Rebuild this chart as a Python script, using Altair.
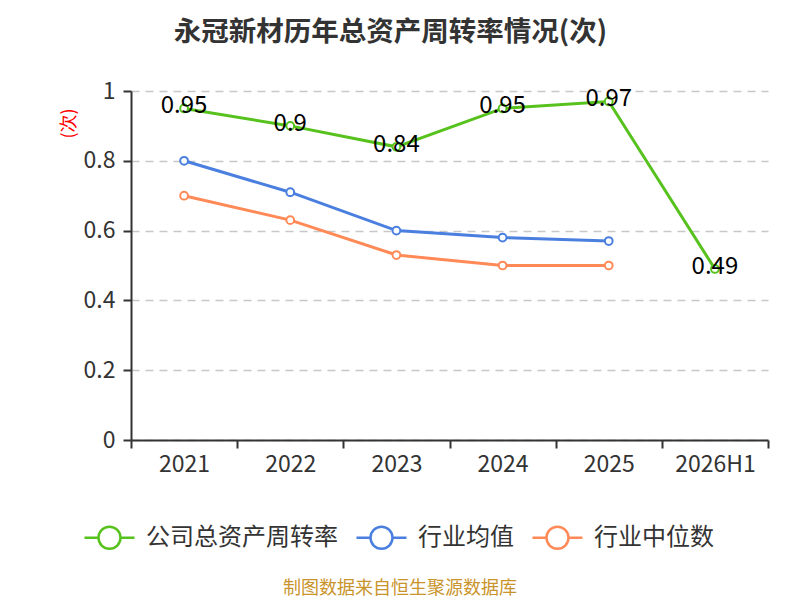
import altair as alt
import pandas as pd

years = ["2021", "2022", "2023", "2024", "2025", "2026H1"]
company = [0.95, 0.90, 0.84, 0.95, 0.97, 0.49]
ind_avg = [0.80, 0.71, 0.60, 0.58, 0.57]
ind_med = [0.70, 0.63, 0.53, 0.50, 0.50]
series_names = ["公司总资产周转率", "行业均值", "行业中位数"]
colors = ["#57c21d", "#4a7fe0", "#ff8a57"]
y_ticks = [0, 0.2, 0.4, 0.6, 0.8, 1.0]
title_text = "永冠新材历年总资产周转率情况(次)"
source_text = "制图数据来自恒生聚源数据库"

rows = []
for name, vals in zip(series_names, [company, ind_avg, ind_med]):
    for y, v in zip(years, vals):
        rows.append({"year": y, "value": v, "series": name})
df = pd.DataFrame(rows)
df_company = df[df["series"] == series_names[0]]

FONT = "Noto Sans CJK SC"

x_enc = alt.X(
    "year:O",
    sort=years,
    bandPosition=0.5,
    scale=alt.Scale(type="band", domain=years, paddingInner=0, paddingOuter=0),
    axis=alt.Axis(
        title=None,
        labelAngle=0,
        tickBand="extent",
        grid=False,
        labelFontSize=23,
        labelPadding=5,
        tickSize=8,
    ),
)
y_enc = alt.Y(
    "value:Q",
    scale=alt.Scale(domain=[0, 1], nice=False),
    axis=alt.Axis(
        title="(次)",
        titleColor="red",
        titleFontSize=18,
        titleFontWeight="normal",
        titleAngle=-90,
        titleX=-62,
        titleY=32,
        titleAlign="center",
        titleBaseline="middle",
        values=y_ticks,
        format="~g",
        grid=True,
        gridDash=[8, 6],
        gridColor="#c8c8c8",
        gridWidth=1.5,
        labelFontSize=23,
        labelPadding=8,
        tickSize=8,
    ),
)
color_enc = alt.Color(
    "series:N",
    title=None,
    scale=alt.Scale(domain=series_names, range=colors),
    legend=alt.Legend(
        orient="none",
        direction="horizontal",
        legendX=-48,
        legendY=420,
        symbolType="M-1,0L-0.44,0M0.44,0L1,0M-0.44,0A0.44,0.44,0,1,1,0.44,0A0.44,0.44,0,1,1,-0.44,0",
        symbolSize=2500,
        symbolStrokeWidth=2.5,
        labelFontSize=24,
        labelColor="#333333",
        labelOffset=10,
        labelLimit=400,
        columnPadding=13,
    ),
)

base = alt.Chart(df)
lines = base.mark_line(strokeWidth=3).encode(x=x_enc, y=y_enc, color=color_enc)
points = base.mark_point(
    shape="circle", filled=False, fill="white", size=60, strokeWidth=2, opacity=1
).encode(x=x_enc, y=y_enc, color=alt.Color("series:N", scale=alt.Scale(domain=series_names, range=colors), legend=None))
labels = alt.Chart(df_company).mark_text(
    fontSize=24, color="black", align="center", baseline="middle", font=FONT, dy=-2
).encode(x=x_enc, y=y_enc, text=alt.Text("value:Q", format=".2~f"))

source = alt.Chart(pd.DataFrame({"t": [source_text]})).mark_text(
    fontSize=18, color="#c9942c", align="center", baseline="middle", font=FONT
).encode(x=alt.value(269), y=alt.value(498), text="t:N")

chart = (
    alt.layer(lines, points, labels, source)
    .properties(
        width=637,
        height=349,
        autosize=alt.AutoSizeParams(type="none"),
        padding={"left": 123, "top": 83, "right": 24, "bottom": 170},
        title=alt.TitleParams(
            title_text,
            fontSize=27.5,
            fontWeight="bold",
            color="#333333",
            anchor="middle",
            frame="group",
            dx=-59,
            offset=34,
            font=FONT,
        ),
    )
    .configure(font=FONT)
    .configure_view(stroke=None)
    .configure_axis(
        labelFont=FONT,
        titleFont=FONT,
        labelColor="#333333",
        domainColor="#333333",
        tickColor="#333333",
        domainWidth=2,
        tickWidth=2,
    )
    .configure_legend(labelFont=FONT)
)

chart.save("out.html", embed_options={"renderer": "svg", "actions": False})
